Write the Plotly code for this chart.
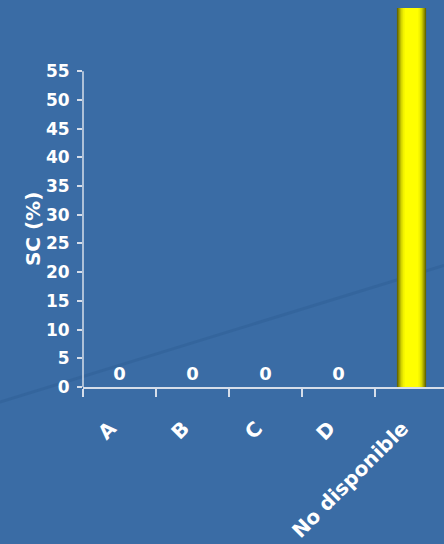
import plotly.graph_objects as go

categories = ["A", "B", "C", "D", "No disponible"]
values = [0, 0, 0, 0, 100]
value_labels = ["0", "0", "0", "0", ""]
y_ticks = [0, 5, 10, 15, 20, 25, 30, 35, 40, 45, 50, 55]
y_title = "SC (%)"

BG = "#3a6ca5"
AXIS = "#d6deea"
FONT = "DejaVu Sans"

fig = go.Figure()

# zero-value bars with labels
fig.add_trace(go.Bar(
    x=categories[:4], y=values[:4], text=[f"<b>{t}</b>" for t in value_labels[:4]],
    textposition="outside", width=0.4,
    outsidetextfont=dict(color="white", size=18, family=FONT),
    marker=dict(color="#ffff00", line=dict(width=0)),
    cliponaxis=False, showlegend=False,
))

# cylinder-like yellow bar built from overlaid bars of decreasing width
shades = [
    (0.40, "rgb(105,105,0)"),
    (0.37, "rgb(135,135,0)"),
    (0.34, "rgb(165,165,0)"),
    (0.31, "rgb(195,195,0)"),
    (0.28, "rgb(222,222,0)"),
    (0.24, "rgb(242,242,0)"),
    (0.19, "rgb(255,255,0)"),
]
for w, c in shades:
    fig.add_trace(go.Bar(
        x=[categories[4]], y=[values[4]], width=w,
        marker=dict(color=c, line=dict(width=0)),
        showlegend=False, hoverinfo="skip",
    ))

fig.update_layout(
    width=444, height=544,
    margin=dict(l=83, r=0, t=8, b=157),
    paper_bgcolor=BG, plot_bgcolor=BG,
    barmode="overlay",
    font=dict(family=FONT, color="white"),
    xaxis=dict(
        categoryorder="array", categoryarray=categories,
        tickmode="array", tickvals=categories,
        ticktext=[f"<b>{c}</b>" for c in categories],
        range=[-0.5, 4.445],
        showline=True, linecolor=AXIS, linewidth=1.5,
        ticks="outside", ticklen=8, tickcolor=AXIS, tickwidth=1.5,
        tickson="boundaries",
        tickangle=-45, ticklabelstandoff=20, ticklabelshift=-9,
        tickfont=dict(size=20, color="white", family=FONT),
        showgrid=False, zeroline=False,
    ),
    yaxis=dict(
        range=[0, 66],
        tickvals=y_ticks, ticktext=[f"<b>{v}</b>" for v in y_ticks],
        ticks="outside", ticklen=5, tickcolor=AXIS, tickwidth=1.5,
        ticklabelstandoff=4,
        tickfont=dict(size=17, color="white", family=FONT),
        showline=False, showgrid=False, zeroline=False,
    ),
    annotations=[
        dict(text=f"<b>{y_title}</b>", xref="paper", yref="y", x=-0.1385, y=27.5,
             textangle=-90, showarrow=False, xanchor="center", yanchor="middle",
             font=dict(size=20, color="white", family=FONT)),
    ],
    shapes=[
        dict(type="line", xref="paper", yref="paper", x0=-0.23, y0=-0.04, x1=1.0, y1=0.321,
             line=dict(color="rgba(25,70,120,0.18)", width=3), layer="below"),
        dict(type="line", xref="paper", yref="y", x0=0, y0=0, x1=0, y1=55,
             line=dict(color=AXIS, width=1.5)),
    ],
)

fig.write_html("out.html")
